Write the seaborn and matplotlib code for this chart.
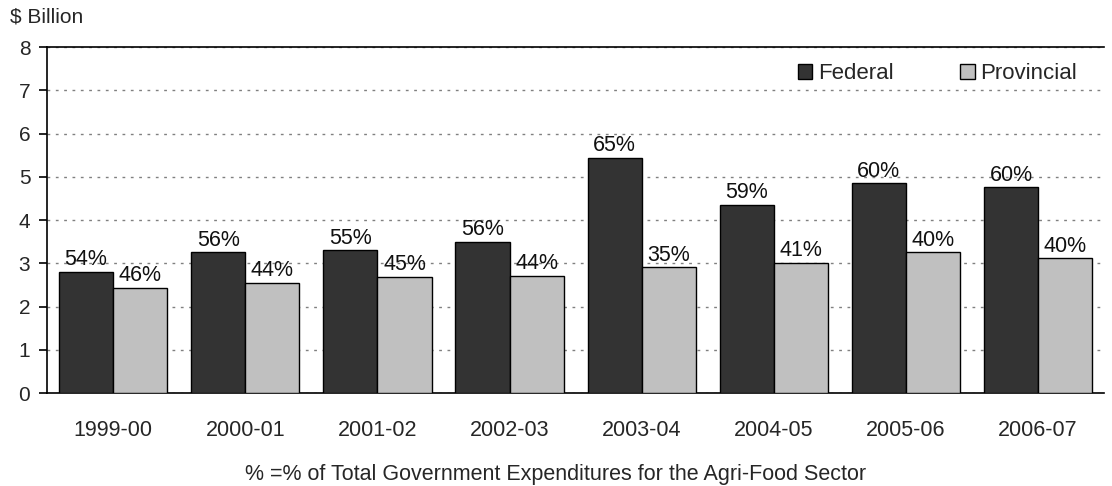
import matplotlib
matplotlib.use("Agg")
import matplotlib.pyplot as plt
import numpy as np
import pandas as pd
import seaborn as sns

years = ["1999-00", "2000-01", "2001-02", "2002-03", "2003-04", "2004-05", "2005-06", "2006-07"]
federal = [2.81, 3.26, 3.31, 3.50, 5.44, 4.36, 4.85, 4.76]
provincial = [2.44, 2.55, 2.69, 2.72, 2.91, 3.02, 3.26, 3.12]
federal_pct = ["54%", "56%", "55%", "56%", "65%", "59%", "60%", "60%"]
provincial_pct = ["46%", "44%", "45%", "44%", "35%", "41%", "40%", "40%"]

df = pd.DataFrame({
    "year": years * 2,
    "value": federal + provincial,
    "level": ["Federal"] * len(years) + ["Provincial"] * len(years),
    "pct": federal_pct + provincial_pct,
})

sns.set_theme(style="white")
plt.rcParams["font.family"] = ["Liberation Sans", "DejaVu Sans"]
plt.rcParams["font.size"] = 15

fig = plt.figure(figsize=(11.12, 4.86), dpi=100)
ax = fig.add_axes([0.0423, 0.191, 0.9507, 0.712])

sns.barplot(data=df, x="year", y="value", hue="level", order=years,
            hue_order=["Federal", "Provincial"],
            palette={"Federal": "#333333", "Provincial": "#c0c0c0"},
            width=0.82, edgecolor="black", linewidth=1.0, saturation=1,
            errorbar=None, ax=ax, zorder=3)

# percentage labels above the bars
for container, labels in zip(ax.containers, [federal_pct, provincial_pct]):
    ax.bar_label(container, labels=labels, padding=1, fontsize=15.5, color="#111111")

ax.set_ylim(0, 8)
ax.set_xlim(-0.5, len(years) - 0.5)
ax.set_yticks(range(0, 9))
ax.yaxis.grid(True, linestyle=(0, (2, 4)), color="#808080", linewidth=1.0, zorder=0)
ax.xaxis.grid(False)

# ticks between categories on the x axis
ax.set_xticks(np.arange(len(years)))
ax.set_xticklabels(years)
ax.tick_params(axis="x", length=0, pad=19, labelsize=15.5)
ax.set_xticks(np.arange(-0.5, len(years)), minor=True)
ax.tick_params(axis="x", which="minor", length=6, width=1.2, color="black", direction="out")
ax.tick_params(axis="y", length=6, width=1.2, color="black", direction="out", labelsize=15, pad=6)
ax.tick_params(axis="both", bottom=True, left=True)

for side in ["left", "bottom", "top"]:
    ax.spines[side].set_visible(True)
    ax.spines[side].set_color("black")
    ax.spines[side].set_linewidth(1.2)
ax.spines["right"].set_visible(False)

ax.set_xlabel("")
ax.set_ylabel("")

leg = ax.legend(loc="upper right", ncol=2, frameon=False, fontsize=16,
                handlelength=0.65, handleheight=0.65, handletextpad=0.25,
                columnspacing=3.0, bbox_to_anchor=(0.993, 1.012))
for h in leg.legend_handles:
    h.set_edgecolor("black")
    h.set_linewidth(1.0)

fig.text(0.009, 0.945, "$ Billion", fontsize=15, ha="left", va="bottom")
fig.text(0.5, 0.024, "% =% of Total Government Expenditures for the Agri-Food Sector",
         fontsize=15.5, ha="center", va="center")

fig.savefig("out.png", dpi=100)
